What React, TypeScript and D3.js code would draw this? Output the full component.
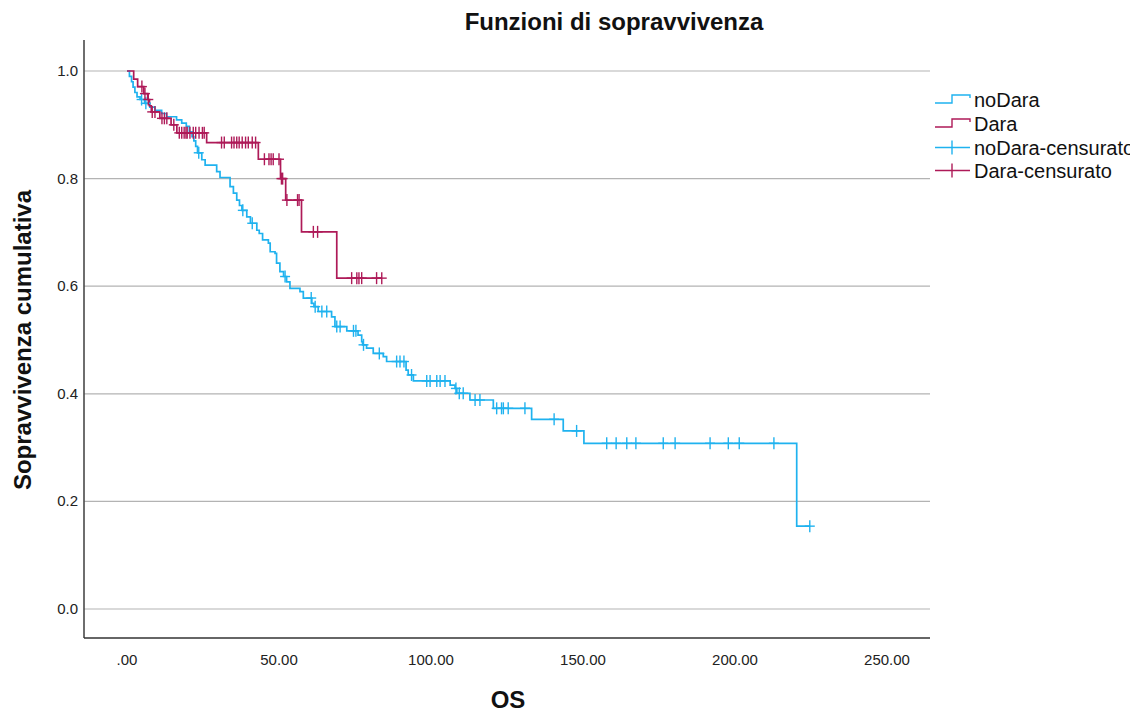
import React from "react";
import * as d3 from "d3";

// Kaplan–Meier steps: [time, survival after the event]
const noDaraSteps: [number, number][] = [
  [0.8, 0.99], [1.5, 0.98], [2.0, 0.97], [2.6, 0.96], [3.3, 0.952], [4.3, 0.947],
  [5.8, 0.94], [7.5, 0.933], [9.2, 0.927], [11.4, 0.921], [13.0, 0.915], [16.3, 0.909],
  [18.0, 0.903], [19.5, 0.897], [20.5, 0.887], [21.4, 0.878], [22.0, 0.87], [22.6, 0.86],
  [23.2, 0.848], [24.6, 0.835], [25.7, 0.825], [29.5, 0.813], [30.6, 0.802], [33.9, 0.785],
  [35.0, 0.773], [36.1, 0.76], [37.0, 0.75], [37.8, 0.741], [39.4, 0.729], [40.6, 0.717],
  [42.7, 0.704], [43.5, 0.698], [44.6, 0.686], [46.5, 0.68], [47.1, 0.664], [48.7, 0.661],
  [49.2, 0.643], [50.3, 0.627], [51.5, 0.618], [52.5, 0.608], [53.6, 0.596], [56.9, 0.59],
  [58.0, 0.578], [60.8, 0.568], [61.5, 0.562], [62.9, 0.553], [67.3, 0.543], [68.4, 0.525],
  [72.3, 0.517], [76.0, 0.509], [77.2, 0.497], [77.5, 0.491], [78.8, 0.485], [81.0, 0.475],
  [84.3, 0.469], [85.4, 0.46], [91.8, 0.444], [92.5, 0.435], [94.2, 0.424], [106.3, 0.416],
  [107.9, 0.41], [108.5, 0.401], [112.8, 0.3885], [120.5, 0.373], [133.1, 0.3526],
  [143.5, 0.331], [150.3, 0.308], [220.3, 0.154],
];
const noDaraCensored = [
  4.8, 6.2, 23.6, 38.1, 41.2, 52.0, 60.6, 61.9, 64.1, 65.7, 69.0, 70.1, 74.5, 75.3, 77.8,
  83.0, 88.7, 89.8, 91.1, 93.6, 98.6, 99.7, 101.9, 103.0, 104.6, 108.2, 109.3, 110.6,
  114.5, 116.1, 121.6, 123.2, 123.8, 125.4, 130.9, 140.5, 147.9, 157.8, 160.9, 164.4,
  167.4, 176.4, 180.3, 191.8, 197.8, 201.4, 212.8, 224.6,
];

const daraSteps: [number, number][] = [
  [2.2, 0.985], [3.5, 0.971], [5.5, 0.958], [6.8, 0.947], [7.4, 0.935], [8.0, 0.924],
  [10.8, 0.912], [14.5, 0.9], [16.4, 0.885], [26.2, 0.867], [43.2, 0.836], [50.5, 0.8],
  [52.2, 0.76], [57.4, 0.701], [69.0, 0.615],
];
const daraCensored = [
  4.9, 5.9, 7.0, 8.3, 9.2, 11.5, 12.3, 13.1, 15.4, 17.2, 18.0, 18.8, 19.4, 19.8, 20.7,
  21.8, 22.6, 23.7, 24.8, 25.4, 31.1, 32.0, 34.4, 35.2, 36.1, 36.9, 37.9, 39.0, 39.9,
  41.2, 42.3, 45.2, 46.7, 47.4, 48.1, 50.0, 50.8, 51.2, 52.6, 56.1, 56.6, 61.3, 62.7,
  73.9, 75.6, 76.3, 77.2, 82.1, 83.8,
];

const xTicks = [0, 50, 100, 150, 200, 250];
const yTicks = [0, 0.2, 0.4, 0.6, 0.8, 1.0];
const legendLabels = ["noDara", "Dara", "noDara-censurato", "Dara-censurato"];

const BLUE = "#1fb2ef";
const RED = "#ae1a58";
const FONT = "'Liberation Sans', Arial, Helvetica, sans-serif";

const x = d3.scaleLinear().domain([0, 250]).range([127, 887]);
const y = d3.scaleLinear().domain([0, 1]).range([609, 71]);

const PLOT_LEFT = 84;
const PLOT_RIGHT = 930;
const PLOT_TOP = 40;
const PLOT_BOTTOM = 638;

function survivalAt(steps: [number, number][], t: number) {
  let s = 1;
  for (const [ts, sv] of steps) if (ts <= t) s = sv;
  return s;
}

function curvePoints(steps: [number, number][], censored: number[]): [number, number][] {
  const end = Math.max(d3.max(censored) ?? 0, d3.max(steps, (d) => d[0]) ?? 0);
  const pts: [number, number][] = [[0, 1], ...steps];
  pts.push([end, steps[steps.length - 1][1]]);
  return pts;
}

const stepLine = d3
  .line<[number, number]>()
  .x((d) => x(d[0]))
  .y((d) => y(d[1]))
  .curve(d3.curveStepAfter);

function Censors({ steps, times, color }: { steps: [number, number][]; times: number[]; color: string }) {
  return (
    <g stroke={color} strokeWidth={1.4}>
      {times.map((t, i) => {
        const cx = x(t);
        const cy = y(survivalAt(steps, t));
        return (
          <g key={i}>
            <line x1={cx - 5} x2={cx + 5} y1={cy} y2={cy} />
            <line x1={cx} x2={cx} y1={cy - 6} y2={cy + 6} />
          </g>
        );
      })}
    </g>
  );
}

export default function App() {
  const series = [
    { steps: noDaraSteps, cens: noDaraCensored, color: BLUE },
    { steps: daraSteps, cens: daraCensored, color: RED },
  ];
  const legendColors = [BLUE, RED, BLUE, RED];
  const legendBaselines = [107, 131, 155, 178];

  return (
    <svg
      width={1142}
      height={716}
      style={{ position: "absolute", left: 0, top: 0, background: "#fff" }}
      fontFamily={FONT}
    >
      <defs>
        <clipPath id="legendClip">
          <rect x={930} y={0} width={200} height={716} />
        </clipPath>
      </defs>
      <rect x={0} y={0} width={1142} height={716} fill="#fff" />

      {/* title */}
      <text x={614} y={30} textAnchor="middle" fontSize={24} fontWeight="bold" fill="#111">
        Funzioni di sopravvivenza
      </text>

      {/* grid lines */}
      {yTicks.map((v) => (
        <line key={v} x1={PLOT_LEFT} x2={PLOT_RIGHT} y1={y(v)} y2={y(v)} stroke="#b3b3b3" strokeWidth={1.2} />
      ))}

      {/* axes */}
      <line x1={PLOT_LEFT} x2={PLOT_LEFT} y1={PLOT_TOP} y2={PLOT_BOTTOM} stroke="#4a4a4a" strokeWidth={1.6} />
      <line x1={PLOT_LEFT} x2={PLOT_RIGHT} y1={PLOT_BOTTOM} y2={PLOT_BOTTOM} stroke="#333" strokeWidth={1.4} />

      {yTicks.map((v) => (
        <text key={v} x={78} y={y(v) + 5} textAnchor="end" fontSize={15} fill="#222">
          {d3.format(".1f")(v)}
        </text>
      ))}
      {xTicks.map((v) => (
        <text key={v} x={x(v)} y={665} textAnchor="middle" fontSize={15} fill="#222">
          {v === 0 ? ".00" : d3.format(".2f")(v)}
        </text>
      ))}

      <text x={508} y={708} textAnchor="middle" fontSize={24} fontWeight="bold" fill="#111">
        OS
      </text>
      <text
        transform="translate(31,340) rotate(-90)"
        textAnchor="middle"
        fontSize={24}
        fontWeight="bold"
        fill="#111"
      >
        Sopravvivenza cumulativa
      </text>

      {/* survival curves */}
      {series.map((s, i) => (
        <path key={i} d={stepLine(curvePoints(s.steps, s.cens)) ?? ""} fill="none" stroke={s.color} strokeWidth={1.7} />
      ))}
      {series.map((s, i) => (
        <Censors key={i} steps={s.steps} times={s.cens} color={s.color} />
      ))}

      {/* legend */}
      <g clipPath="url(#legendClip)">
        {legendLabels.map((lab, i) => {
          const b = legendBaselines[i];
          const c = b - 7.5;
          const col = legendColors[i];
          return (
            <g key={lab}>
              {i < 2 ? (
                <path
                  d={`M935,${c + 3.5}H952V${c - 4.5}H970V${c - 1.5}`}
                  fill="none"
                  stroke={col}
                  strokeWidth={1.4}
                />
              ) : (
                <g stroke={col} strokeWidth={1.4}>
                  <line x1={935} x2={970} y1={c} y2={c} />
                  <line x1={952} x2={952} y1={c - 7} y2={c + 7} />
                </g>
              )}
              <text x={974} y={b} fontSize={20} fill="#111">
                {lab}
              </text>
            </g>
          );
        })}
      </g>
    </svg>
  );
}
